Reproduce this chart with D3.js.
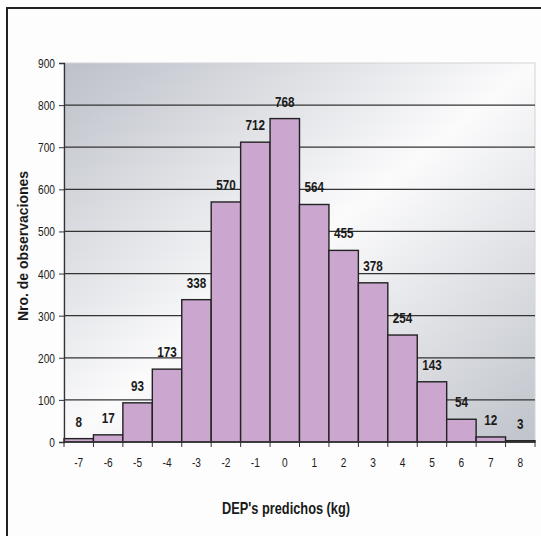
<!DOCTYPE html>
<html lang="en">
<head>
  <meta charset="utf-8">
  <title>DEP's predichos</title>
  <style>
    body { margin:0; background:#fff; }
    svg  { display:block; }
    text { font-family:"Liberation Sans",Arial,sans-serif; fill:#1a1a1a; }
  </style>
</head>
<body>
<script src="https://d3js.org/d3.v7.min.js"></script>
<script>

// categories (kg) and counts
const categories = ["-7","-6","-5","-4","-3","-2","-1","0","1","2","3","4","5","6","7","8"];
const counts = [8, 17, 93, 173, 338, 570, 712, 768, 564, 455, 378, 254, 143, 54, 12, 3];
const yTicks = [0, 100, 200, 300, 400, 500, 600, 700, 800, 900];

const width = 541, height = 536;
const margin = { left: 64, right: 6, top: 63, bottom: 94 };
const narrow = 0.78; // the original uses a narrow font, squeeze horizontally

const svg = d3.select("body").append("svg")
  .attr("width", width)
  .attr("height", height);

// outer frame
svg.append("rect")
  .attr("x", 7).attr("y", 8)
  .attr("width", 545).attr("height", 540)
  .attr("fill", "#fdfdfd")
  .attr("stroke", "#222")
  .attr("stroke-width", 2);

// background gradient for plot area
const grad = svg.append("defs").append("linearGradient")
  .attr("id", "bg")
  .attr("x1", 0).attr("y1", 0).attr("x2", 1).attr("y2", 1);
grad.append("stop").attr("offset", 0).attr("stop-color", "#bcc0c8");
grad.append("stop").attr("offset", 0.5).attr("stop-color", "#fbfbfc");
grad.append("stop").attr("offset", 1).attr("stop-color", "#bfc3ca");

const x = d3.scaleBand()
  .domain(categories)
  .range([margin.left, width - margin.right])
  .padding(0);

const y = d3.scaleLinear()
  .domain([0, 900])
  .range([height - margin.bottom, margin.top]);

svg.append("rect")
  .attr("x", margin.left).attr("y", margin.top)
  .attr("width", width - margin.right - margin.left)
  .attr("height", y(0) - margin.top)
  .attr("fill", "url(#bg)")
  .attr("stroke", "#d4d4d8")
  .attr("stroke-width", 1);

// gridlines
svg.append("g")
  .selectAll("line")
  .data(yTicks.filter(d => d > 0 && d < 900))
  .join("line")
    .attr("x1", margin.left).attr("x2", width - margin.right)
    .attr("y1", d => y(d)).attr("y2", d => y(d))
    .attr("stroke", "#333")
    .attr("stroke-width", 1.3);

// bars
svg.append("g")
  .selectAll("rect")
  .data(counts)
  .join("rect")
    .attr("x", (d, i) => x(categories[i]))
    .attr("y", d => y(d))
    .attr("width", x.bandwidth())
    .attr("height", d => y(0) - y(d))
    .attr("fill", "#cba6cf")
    .attr("stroke", "#222")
    .attr("stroke-width", 1.4);

// value labels
svg.append("g")
  .selectAll("text")
  .data(counts)
  .join("text")
    .attr("transform", (d, i) => `translate(${x(categories[i]) + x.bandwidth() / 2},${y(d) - 12}) scale(${narrow},1)`)
    .attr("text-anchor", "middle")
    .style("font-size", "15px")
    .style("font-weight", "bold")
    .text(d => d);

// y axis
const yAxis = svg.append("g")
  .attr("transform", `translate(${margin.left},0)`)
  .call(d3.axisLeft(y).tickValues(yTicks).tickSize(5).tickPadding(8).tickFormat(d3.format("d")));
yAxis.select(".domain").attr("stroke", "#333").attr("stroke-width", 1.3);
yAxis.selectAll(".tick line").attr("stroke", "#333");
yAxis.selectAll(".tick text")
  .attr("x", null).attr("dy", null)
  .attr("transform", `translate(-9,4.5) scale(${narrow},1)`)
  .style("font-size", "13px").attr("fill", "#222");

// x axis: ticks at bar edges, labels centered
const xg = svg.append("g")
  .attr("transform", `translate(0,${y(0)})`);
xg.append("line")
  .attr("x1", margin.left).attr("x2", width - margin.right)
  .attr("stroke", "#333").attr("stroke-width", 1.3);
xg.selectAll(".edge")
  .data(categories.concat(["end"]))
  .join("line")
    .attr("class", "edge")
    .attr("x1", (d, i) => margin.left + i * x.bandwidth())
    .attr("x2", (d, i) => margin.left + i * x.bandwidth())
    .attr("y1", 0).attr("y2", 5)
    .attr("stroke", "#333");
xg.selectAll("text")
  .data(categories)
  .join("text")
    .attr("transform", d => `translate(${x(d) + x.bandwidth() / 2},25) scale(${narrow},1)`)
    .attr("text-anchor", "middle")
    .style("font-size", "13px")
    .attr("fill", "#222")
    .text(d => d);

// axis titles
svg.append("text")
  .attr("transform", `translate(286,514) scale(0.8,1)`)
  .attr("text-anchor", "middle")
  .style("font-size", "16px")
  .style("font-weight", "bold")
  .text("DEP's predichos (kg)");

svg.append("text")
  .attr("transform", `translate(28,246) rotate(-90)`)
  .attr("text-anchor", "middle")
  .style("font-size", "14px")
  .style("font-weight", "bold")
  .text("Nro. de observaciones");

</script>
</body>
</html>
